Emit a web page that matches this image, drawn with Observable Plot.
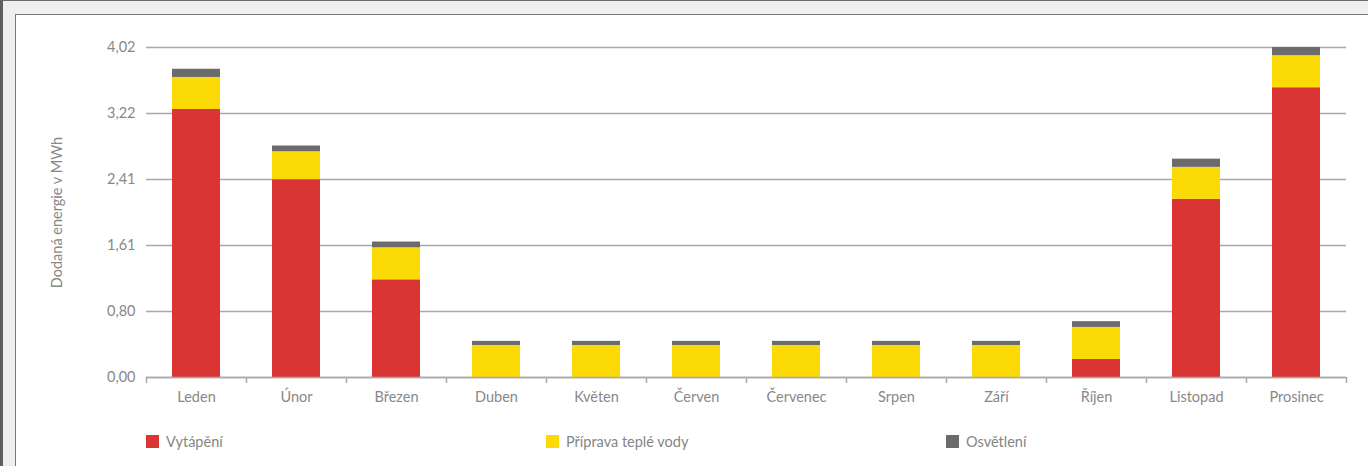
<!DOCTYPE html>
<html>
<head>
<meta charset="utf-8">
<script src="https://cdn.jsdelivr.net/npm/d3@7"></script>
<script src="https://cdn.jsdelivr.net/npm/@observablehq/plot@0.6"></script>
<style>
  html, body { margin: 0; padding: 0; background: #ffffff; }
  #page { position: relative; width: 1368px; height: 466px; overflow: hidden; background: #efefef;
          font-family: Lato, "Open Sans", sans-serif; }
  #edgeL { position: absolute; left: 0; top: 0; width: 3px; height: 466px; background: #5f5f5f; }
  #edgeT { position: absolute; left: 0; top: 0; width: 1368px; height: 1px; background: #6a6a6a; }
  #panel { position: absolute; left: 15px; top: 14px; width: 1360px; height: 460px; background: #ffffff;
           border-left: 1px solid #7a7a7a; border-top: 1px solid #7a7a7a; }
  #chart { position: absolute; left: 0; top: 0; }
  #legend { position: absolute; left: 0; top: 432px; width: 1368px; height: 20px; }
  .item { position: absolute; top: 0; height: 18px; display: flex; align-items: center; font-size: 14.5px; color: #858585; }
  .sw { width: 13px; height: 13px; margin-right: 7px; }
</style>
</head>
<body>
<div id="page">
  <div id="edgeL"></div>
  <div id="edgeT"></div>
  <div id="panel"></div>
  <div id="chart"></div>
  <div id="legend"></div>
</div>
<script>
const months = ["Leden", "Únor", "Březen", "Duben", "Květen", "Červen", "Červenec", "Srpen", "Září", "Říjen", "Listopad", "Prosinec"];
const seriesNames = ["Vytápění", "Příprava teplé vody", "Osvětlení"];
const heating  = [3.265, 2.41, 1.19, 0, 0, 0, 0, 0, 0, 0.22, 2.17, 3.53];
const hotWater = [0.39, 0.34, 0.39, 0.39, 0.39, 0.39, 0.39, 0.39, 0.39, 0.39, 0.39, 0.39];
const lighting = [0.10, 0.07, 0.07, 0.05, 0.05, 0.05, 0.05, 0.05, 0.05, 0.07, 0.10, 0.10];
const seriesColors = ["#da3434", "#fcda05", "#6b6b6b"];
const yTicks = [0, 0.804, 1.608, 2.412, 3.216, 4.02];
const yTitle = "Dodaná energie v MWh";

const values = [heating, hotWater, lighting];
const rows = [];
months.forEach((m, i) => {
  seriesNames.forEach((s, j) => rows.push({month: m, series: s, value: values[j][i]}));
});

const fmt = d => d.toFixed(2).replace(".", ",");
const textColor = "#888888";
const gridColor = "#a9a9a9";

const chart = Plot.plot({
  width: 1368,
  height: 420,
  marginLeft: 146,
  marginRight: 22,
  marginTop: 47,
  marginBottom: 43,
  style: {fontFamily: "Lato, 'Open Sans', sans-serif", fontSize: "14.5px", background: "transparent", color: textColor},
  x: {domain: months, paddingInner: 0.52, paddingOuter: 0.26},
  y: {domain: [0, 4.02]},
  color: {domain: seriesNames, range: seriesColors},
  marks: [
    Plot.gridY(yTicks, {stroke: gridColor, strokeOpacity: 1, strokeWidth: 1.3}),
    Plot.axisY(yTicks, {tickSize: 0, tickPadding: 11, tickFormat: fmt, fill: textColor, fontSize: 14.5, label: null}),
    Plot.barY(rows, Plot.stackY({x: "month", y: "value", fill: "series", order: seriesNames})),
    Plot.ruleY([0], {stroke: gridColor, strokeWidth: 1.5}),
    Plot.axisX({tickSize: 0, tickPadding: 14, fill: textColor, fontSize: 14.5, label: null}),
    Plot.axisX(months, {tickSize: 6, tickFormat: () => "", dx: -50, stroke: gridColor, strokeWidth: 1.5, label: null}),
    Plot.axisX(months.slice(-1), {tickSize: 6, tickFormat: () => "", dx: 50, stroke: gridColor, strokeWidth: 1.5, label: null}),
    Plot.text([yTitle], {frameAnchor: "left", dx: -89, rotate: -90, textAnchor: "middle", fill: textColor, fontSize: 14.5, text: d => d})
  ]
});
document.getElementById("chart").appendChild(chart);

const legend = document.getElementById("legend");
seriesNames.forEach((s, j) => {
  const it = document.createElement("div");
  it.className = "item";
  it.style.left = (146 + j * 400) + "px";
  const sw = document.createElement("span");
  sw.className = "sw";
  sw.style.background = seriesColors[j];
  const tx = document.createElement("span");
  tx.textContent = s;
  it.appendChild(sw);
  it.appendChild(tx);
  legend.appendChild(it);
});
</script>
</body>
</html>
